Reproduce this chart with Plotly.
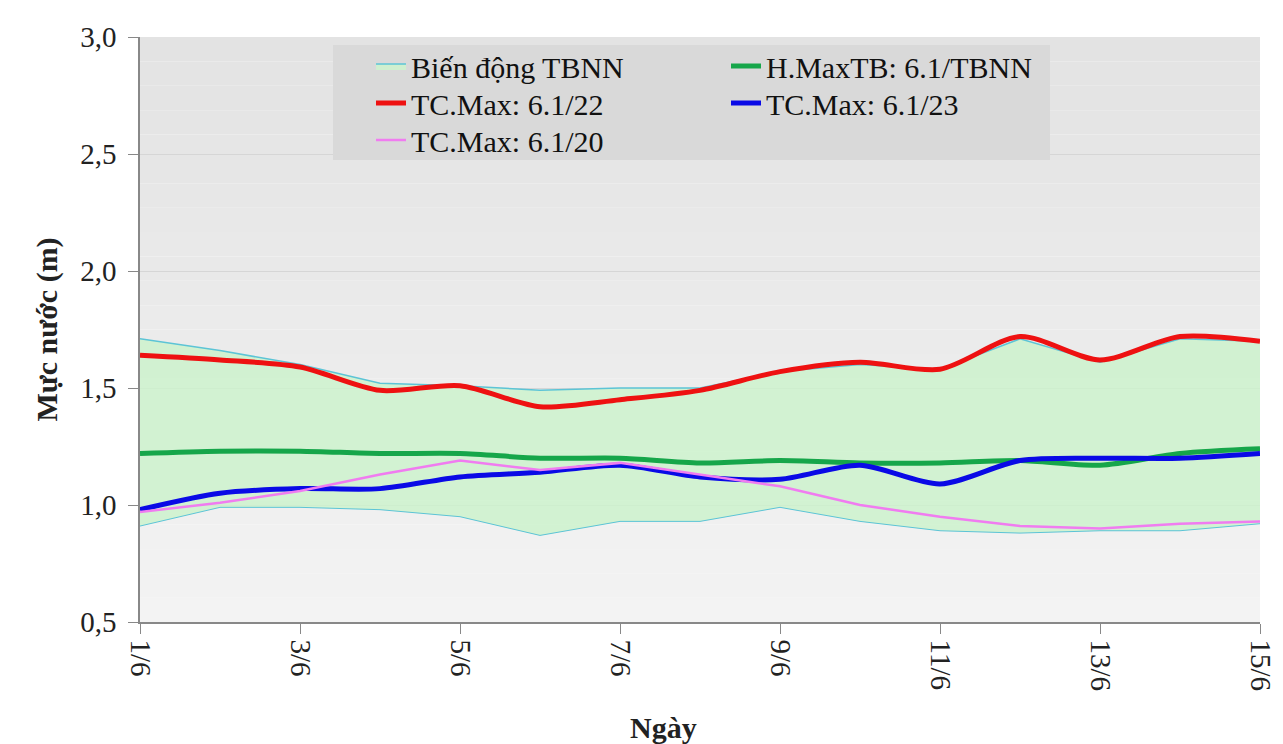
import plotly.graph_objects as go

# Days of June (1/6 .. 15/6)
days = list(range(1, 16))
tick_days = [1, 3, 5, 7, 9, 11, 13, 15]
tick_labels = ["1/6", "3/6", "5/6", "7/6", "9/6", "11/6", "13/6", "15/6"]

# Long-term average range (TBNN) - upper and lower bounds (m)
band_upper = [1.71, 1.66, 1.60, 1.52, 1.51, 1.49, 1.50, 1.50, 1.57, 1.60, 1.58, 1.71, 1.61, 1.71, 1.70]
band_lower = [0.91, 0.99, 0.99, 0.98, 0.95, 0.87, 0.93, 0.93, 0.99, 0.93, 0.89, 0.88, 0.89, 0.89, 0.92]

# Average maximum level, first dekad of June (TBNN)
hmax_tb = [1.22, 1.23, 1.23, 1.22, 1.22, 1.20, 1.20, 1.18, 1.19, 1.18, 1.18, 1.19, 1.17, 1.22, 1.24]

# Daily maximum levels for individual years
tc_max_22 = [1.64, 1.62, 1.59, 1.49, 1.51, 1.42, 1.45, 1.49, 1.57, 1.61, 1.58, 1.72, 1.62, 1.72, 1.70]
tc_max_23 = [0.98, 1.05, 1.07, 1.07, 1.12, 1.14, 1.17, 1.12, 1.11, 1.17, 1.09, 1.19, 1.20, 1.20, 1.22]
tc_max_20 = [0.97, 1.01, 1.06, 1.13, 1.19, 1.15, 1.18, 1.13, 1.08, 1.00, 0.95, 0.91, 0.90, 0.92, 0.93]

y_ticks = [0.5, 1.0, 1.5, 2.0, 2.5, 3.0]
y_tick_labels = ["0,5", "1,0", "1,5", "2,0", "2,5", "3,0"]

SERIF = "'Liberation Serif', 'Times New Roman', serif"
W, H = 1283, 744
M_L, M_R, M_T, M_B = 140, 23, 37, 122
PW, PH = W - M_L - M_R, H - M_T - M_B


def px_x(px):
    """Pixel column -> paper x (paper spans the plotting area)."""
    return (px - M_L) / PW


def px_y(py):
    """Pixel row -> paper y."""
    return (H - M_B - py) / PH


fig = go.Figure()

# Range band: lower edge first, then upper edge filled down to it
fig.add_trace(go.Scatter(
    x=days, y=band_lower, mode="lines",
    line=dict(color="#5cc4d6", width=1),
    showlegend=False, hoverinfo="skip",
))
fig.add_trace(go.Scatter(
    x=days, y=band_upper, mode="lines", name="Biến động TBNN",
    line=dict(color="#5cc4d6", width=1.5),
    fill="tonexty", fillcolor="rgba(204,242,204,0.85)",
    legend="legend",
))
fig.add_trace(go.Scatter(
    x=days, y=hmax_tb, mode="lines", name="H.MaxTB: 6.1/TBNN",
    line=dict(color="#16a64a", width=5, shape="spline", smoothing=0.8),
    legend="legend2",
))
fig.add_trace(go.Scatter(
    x=days, y=tc_max_22, mode="lines", name="TC.Max: 6.1/22",
    line=dict(color="#ee1111", width=5, shape="spline", smoothing=0.8),
    legend="legend3",
))
fig.add_trace(go.Scatter(
    x=days, y=tc_max_23, mode="lines", name="TC.Max: 6.1/23",
    line=dict(color="#0a0ae6", width=5, shape="spline", smoothing=0.8),
    legend="legend4",
))
fig.add_trace(go.Scatter(
    x=days, y=tc_max_20, mode="lines", name="TC.Max: 6.1/20",
    line=dict(color="#f07cf0", width=2.5),
    legend="legend5",
))

# Soft vertical gradient for the plotting area background
shapes = []
n_steps = 24
for i in range(n_steps):
    t = i / (n_steps - 1)
    g = int(round(0xe3 + (0xf3 - 0xe3) * t))
    shapes.append(dict(
        type="rect", xref="x domain", yref="y domain",
        x0=0, x1=1, y0=1 - (i + 1) / n_steps, y1=1 - i / n_steps,
        fillcolor=f"rgb({g},{g},{g})", line=dict(width=0), layer="below",
    ))

# Shared grey panel behind the legend entries
shapes.append(dict(
    type="rect", xref="paper", yref="paper",
    x0=px_x(333), x1=px_x(1050), y0=px_y(160), y1=px_y(45),
    fillcolor="#d9d9d9", line=dict(width=0), layer="above",
))

legend_font = dict(family=SERIF, size=30, color="#111111")


def legend_box(left_px, top_px):
    return dict(
        orientation="v", xref="paper", yref="paper",
        x=px_x(left_px), y=px_y(top_px), xanchor="left", yanchor="top",
        bgcolor="rgba(0,0,0,0)", font=legend_font, itemwidth=30,
    )


col1, col2 = 371, 726
row1, row2, row3 = 40, 77, 114

fig.update_layout(
    width=W, height=H,
    margin=dict(l=M_L, r=M_R, t=M_T, b=M_B, autoexpand=False),
    paper_bgcolor="white",
    plot_bgcolor="rgba(0,0,0,0)",
    shapes=shapes,
    font=dict(family=SERIF, size=29, color="#222222"),
    legend=legend_box(col1, row1),
    legend2=legend_box(col2, row1),
    legend3=legend_box(col1, row2),
    legend4=legend_box(col2, row2),
    legend5=legend_box(col1, row3),
    annotations=[dict(
        text="<b>Ngày</b>", xref="paper", yref="paper",
        x=px_x(663), y=px_y(727), showarrow=False,
        xanchor="center", yanchor="middle",
        font=dict(family=SERIF, size=30, color="#222222"),
    )],
    xaxis=dict(
        range=[1, 15], automargin=False,
        tickvals=tick_days, ticktext=tick_labels,
        tickangle=90,
        ticks="outside", ticklen=10, tickcolor="#888888",
        showline=True, linecolor="#888888", linewidth=1.5,
        showgrid=False, zeroline=False,
        tickfont=dict(family=SERIF, size=29, color="#222222"),
    ),
    yaxis=dict(
        range=[0.5, 3.0], automargin=False,
        tickvals=y_ticks, ticktext=y_tick_labels,
        ticks="outside", ticklen=10, tickcolor="#888888",
        ticklabelstandoff=6,
        showline=True, linecolor="#888888", linewidth=1.5,
        showgrid=True, gridcolor="#d6d6d6", gridwidth=1,
        zeroline=False,
        tickfont=dict(family=SERIF, size=29, color="#222222"),
        title=dict(text="<b>Mực nước (m)</b>", standoff=14,
                   font=dict(family=SERIF, size=30, color="#222222")),
    ),
)

fig.write_html("out.html")
